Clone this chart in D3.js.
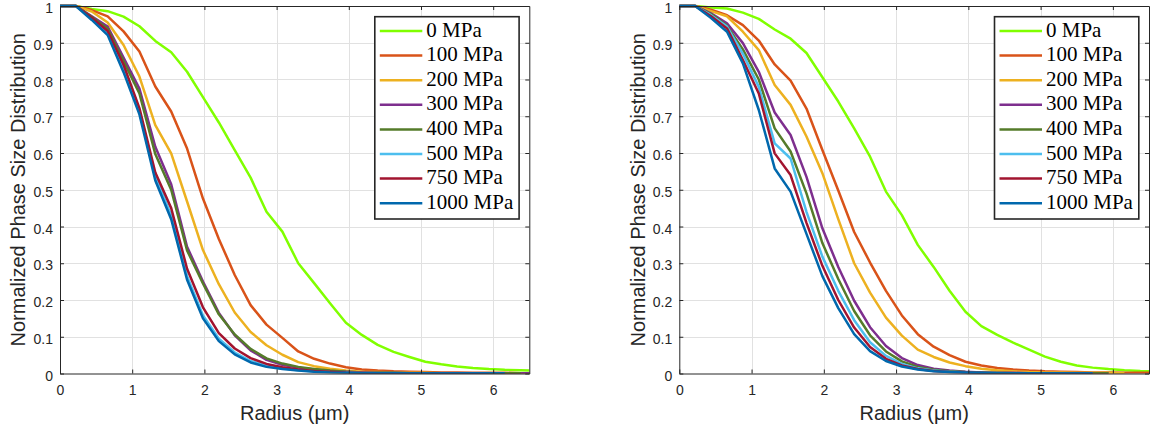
<!DOCTYPE html>
<html><head><meta charset="utf-8">
<script src="https://cdn.jsdelivr.net/npm/d3@7"></script>
<style>body{margin:0;background:#fff;} svg{display:block}</style>
</head><body>
<svg id="chart" width="1151" height="429"></svg>
<script>
// ---------------- data ----------------
const radius = [0,0.22,0.44,0.66,0.88,1.10,1.32,1.54,1.76,1.98,2.20,2.42,2.64,2.86,3.08,3.30,3.52,3.74,3.96,4.18,4.40,4.62,4.84,5.06,5.28,5.50,5.72,5.94,6.16,6.38,6.60];
const pressureLabels = ["0 MPa","100 MPa","200 MPa","300 MPa","400 MPa","500 MPa","750 MPa","1000 MPa"];
const seriesColors = ["#80ff00","#d95319","#edb120","#7e2f8e","#557b2a","#4dbeee","#a2142f","#0068ad"];
const xTicks = [0,1,2,3,4,5,6];
const xTickLabels = ["0","1","2","3","4","5","6"];
const yTicks = [0,0.1,0.2,0.3,0.4,0.5,0.6,0.7,0.8,0.9,1];
const yTickLabels = ["0","0.1","0.2","0.3","0.4","0.5","0.6","0.7","0.8","0.9","1"];
const xLabel = "Radius (μm)";
const yLabel = "Normalized Phase Size Distribution";

// left panel
const left0    = [1,1,0.992,0.986,0.971,0.945,0.905,0.874,0.821,0.752,0.683,0.608,0.533,0.44,0.386,0.30,0.246,0.191,0.138,0.105,0.078,0.059,0.045,0.032,0.025,0.019,0.015,0.012,0.010,0.009,0.008];
const left100  = [1,1,0.989,0.972,0.931,0.876,0.781,0.713,0.612,0.476,0.366,0.268,0.186,0.133,0.097,0.060,0.040,0.027,0.017,0.011,0.008,0.006,0.005,0.004,0.003,0.003,0.002,0.002,0.002,0.001,0.001];
const left200  = [1,1,0.985,0.955,0.894,0.808,0.676,0.599,0.468,0.336,0.243,0.166,0.113,0.077,0.051,0.031,0.020,0.013,0.008,0.005,0.004,0.003,0.002,0.002,0.001,0.001,0.001,0.001,0.001,0.001,0.001];
const left300  = [1,1,0.972,0.944,0.860,0.775,0.617,0.515,0.345,0.250,0.165,0.104,0.063,0.037,0.024,0.016,0.011,0.007,0.005,0.003,0.002,0.002,0.001,0.001,0.001,0.001,0.001,0.001,0.001,0.001,0.001];
const left400  = [1,1,0.970,0.938,0.850,0.762,0.597,0.500,0.335,0.245,0.161,0.106,0.067,0.041,0.027,0.018,0.012,0.008,0.005,0.003,0.002,0.002,0.001,0.001,0.001,0.001,0.001,0.001,0.001,0.001];
const left500  = [1,1,0.966,0.928,0.835,0.712,0.537,0.430,0.265,0.158,0.095,0.057,0.034,0.021,0.014,0.009,0.006,0.004,0.003,0.002,0.001,0.001,0.001,0.001,0.001,0.001,0.001,0.001];
const left750  = [1,1,0.968,0.932,0.840,0.722,0.547,0.450,0.285,0.180,0.110,0.068,0.042,0.026,0.017,0.011,0.007,0.005,0.003,0.002,0.001,0.001,0.001,0.001,0.001,0.001,0.001,0.001];
const left1000 = [1,1,0.962,0.921,0.820,0.705,0.525,0.420,0.255,0.150,0.088,0.052,0.030,0.018,0.012,0.008,0.005,0.003,0.002,0.001,0.001,0.001,0.001,0.001,0.001,0.001,0.001,0.001,0.001];

// right panel
const right0    = [1,1,0.996,0.993,0.982,0.965,0.936,0.911,0.872,0.806,0.740,0.667,0.590,0.495,0.431,0.350,0.290,0.225,0.168,0.129,0.105,0.084,0.065,0.046,0.032,0.022,0.016,0.012,0.009,0.007,0.006];
const right100  = [1,1,0.990,0.975,0.948,0.906,0.841,0.797,0.721,0.608,0.498,0.385,0.302,0.225,0.158,0.107,0.073,0.050,0.032,0.022,0.015,0.011,0.008,0.006,0.005,0.004,0.003,0.003,0.002,0.002,0.002];
const right200  = [1,1,0.986,0.972,0.930,0.880,0.785,0.731,0.645,0.545,0.420,0.300,0.220,0.152,0.103,0.065,0.045,0.030,0.020,0.013,0.009,0.006,0.004,0.003,0.003,0.002,0.002,0.002,0.001];
const right300  = [1,1,0.980,0.953,0.899,0.821,0.710,0.649,0.535,0.395,0.290,0.198,0.126,0.075,0.042,0.023,0.013,0.008,0.005,0.003,0.002,0.002,0.001,0.001,0.001,0.001,0.001,0.001];
const right400  = [1,1,0.978,0.946,0.882,0.800,0.667,0.604,0.490,0.355,0.257,0.170,0.104,0.060,0.033,0.018,0.010,0.006,0.004,0.003,0.002,0.001,0.001,0.001,0.001,0.001,0.001,0.001];
const right500  = [1,1,0.975,0.944,0.870,0.780,0.626,0.585,0.440,0.318,0.225,0.145,0.085,0.048,0.026,0.014,0.008,0.005,0.003,0.002,0.001,0.001,0.001,0.001,0.001,0.001,0.001];
const right750  = [1,1,0.972,0.939,0.853,0.762,0.599,0.540,0.410,0.293,0.200,0.125,0.072,0.040,0.022,0.012,0.007,0.004,0.003,0.002,0.001,0.001,0.001,0.001,0.001,0.001,0.001];
const right1000 = [1,1,0.967,0.930,0.844,0.717,0.558,0.495,0.380,0.265,0.178,0.107,0.061,0.034,0.019,0.011,0.006,0.004,0.003,0.002,0.001,0.001,0.001,0.001,0.001,0.001,0.001];

const leftSeries  = [left0,left100,left200,left300,left400,left500,left750,left1000];
const rightSeries = [right0,right100,right200,right300,right400,right500,right750,right1000];

// ---------------- drawing ----------------
const svg = d3.select("#chart");
const AXIS = "#262626";
const SANS = "'Liberation Sans', Arial, Helvetica, sans-serif";
const SERIF = "'Liberation Serif', 'Times New Roman', serif";

function drawPanel(series, box, id) {
  const g = svg.append("g");
  const x = d3.scaleLinear().domain([0, 6.5]).range([box.l, box.r]);
  const y = d3.scaleLinear().domain([0, 1]).range([box.b, box.t]);

  // grid
  g.append("g").selectAll("line").data(xTicks.filter(d => d > 0)).join("line")
    .attr("x1", d => Math.round(x(d)) + 0.5).attr("x2", d => Math.round(x(d)) + 0.5)
    .attr("y1", box.t).attr("y2", box.b)
    .attr("stroke", "#e1e1e1").attr("stroke-width", 1);
  g.append("g").selectAll("line").data(yTicks.filter(d => d > 0 && d < 1)).join("line")
    .attr("y1", d => Math.round(y(d)) + 0.5).attr("y2", d => Math.round(y(d)) + 0.5)
    .attr("x1", box.l).attr("x2", box.r)
    .attr("stroke", "#e1e1e1").attr("stroke-width", 1);

  // clip
  svg.append("defs").append("clipPath").attr("id", "clip" + id)
    .append("rect").attr("x", box.l).attr("y", box.t - 2)
    .attr("width", box.r - box.l).attr("height", box.b - box.t + 2);

  const line = d3.line().x((d, i) => x(radius[i])).y(d => y(d));
  const lg = g.append("g").attr("clip-path", `url(#clip${id})`);
  series.forEach((s, k) => {
    lg.append("path").attr("d", line(s))
      .attr("fill", "none").attr("stroke", seriesColors[k])
      .attr("stroke-width", 2.5).attr("stroke-linejoin", "round");
  });

  // axes
  const styleAxis = sel => {
    sel.selectAll("path.domain").attr("stroke", AXIS).attr("stroke-width", 1);
    sel.selectAll(".tick line").attr("stroke", AXIS).attr("stroke-width", 1);
    sel.selectAll("text").attr("fill", AXIS).style("font-family", SANS).style("font-size", "14px");
  };
  g.append("g").attr("transform", `translate(0,${box.b})`)
    .call(d3.axisBottom(x).tickValues(xTicks).tickFormat((d, i) => xTickLabels[i])
      .tickSizeInner(-4).tickSizeOuter(0).tickPadding(12)).call(styleAxis);
  g.append("g").attr("transform", `translate(0,${box.t})`)
    .call(d3.axisTop(x).tickValues(xTicks).tickFormat("")
      .tickSizeInner(-4).tickSizeOuter(0)).call(styleAxis);
  const yAxisG = g.append("g").attr("transform", `translate(${box.l},0)`)
    .call(d3.axisLeft(y).tickValues(yTicks).tickFormat((d, i) => yTickLabels[i])
      .tickSizeInner(-4).tickSizeOuter(0).tickPadding(7)).call(styleAxis);
  yAxisG.selectAll("text").attr("dy", "0.47em");
  g.append("g").attr("transform", `translate(${box.r},0)`)
    .call(d3.axisRight(y).tickValues(yTicks).tickFormat("")
      .tickSizeInner(-4).tickSizeOuter(0)).call(styleAxis);

  // axis labels
  g.append("text").attr("x", (box.l + box.r) / 2).attr("y", 420)
    .attr("text-anchor", "middle").attr("fill", AXIS)
    .style("font-family", SANS).style("font-size", "20px").text(xLabel);
  g.append("text")
    .attr("transform", `translate(${box.l - 34.7},${(box.t + box.b) / 2}) rotate(-90)`)
    .attr("text-anchor", "middle").attr("fill", AXIS)
    .style("font-family", SANS).style("font-size", "20px").text(yLabel);

  // legend
  const lx = box.r - 154.5, ly = 16.7, lw = 144.3, lh = 202.3;
  const leg = g.append("g");
  leg.append("rect").attr("x", lx).attr("y", ly).attr("width", lw).attr("height", lh)
    .attr("fill", "#fff").attr("stroke", AXIS).attr("stroke-width", 1.6);
  pressureLabels.forEach((lab, k) => {
    const ry = 31 + k * 24.6;
    leg.append("line").attr("x1", lx + 5).attr("x2", lx + 47.5)
      .attr("y1", ry).attr("y2", ry)
      .attr("stroke", seriesColors[k]).attr("stroke-width", 2.5);
    leg.append("text").attr("x", lx + 51.5).attr("y", ry + 5.5)
      .attr("fill", "#000").style("font-family", SERIF).style("font-size", "21px")
      .text(lab);
  });
}

drawPanel(leftSeries,  {l: 60,    r: 529.3, t: 6, b: 373.5}, "L");
drawPanel(rightSeries, {l: 679.3, r: 1149,  t: 6, b: 373.5}, "R");
</script>
</body></html>
